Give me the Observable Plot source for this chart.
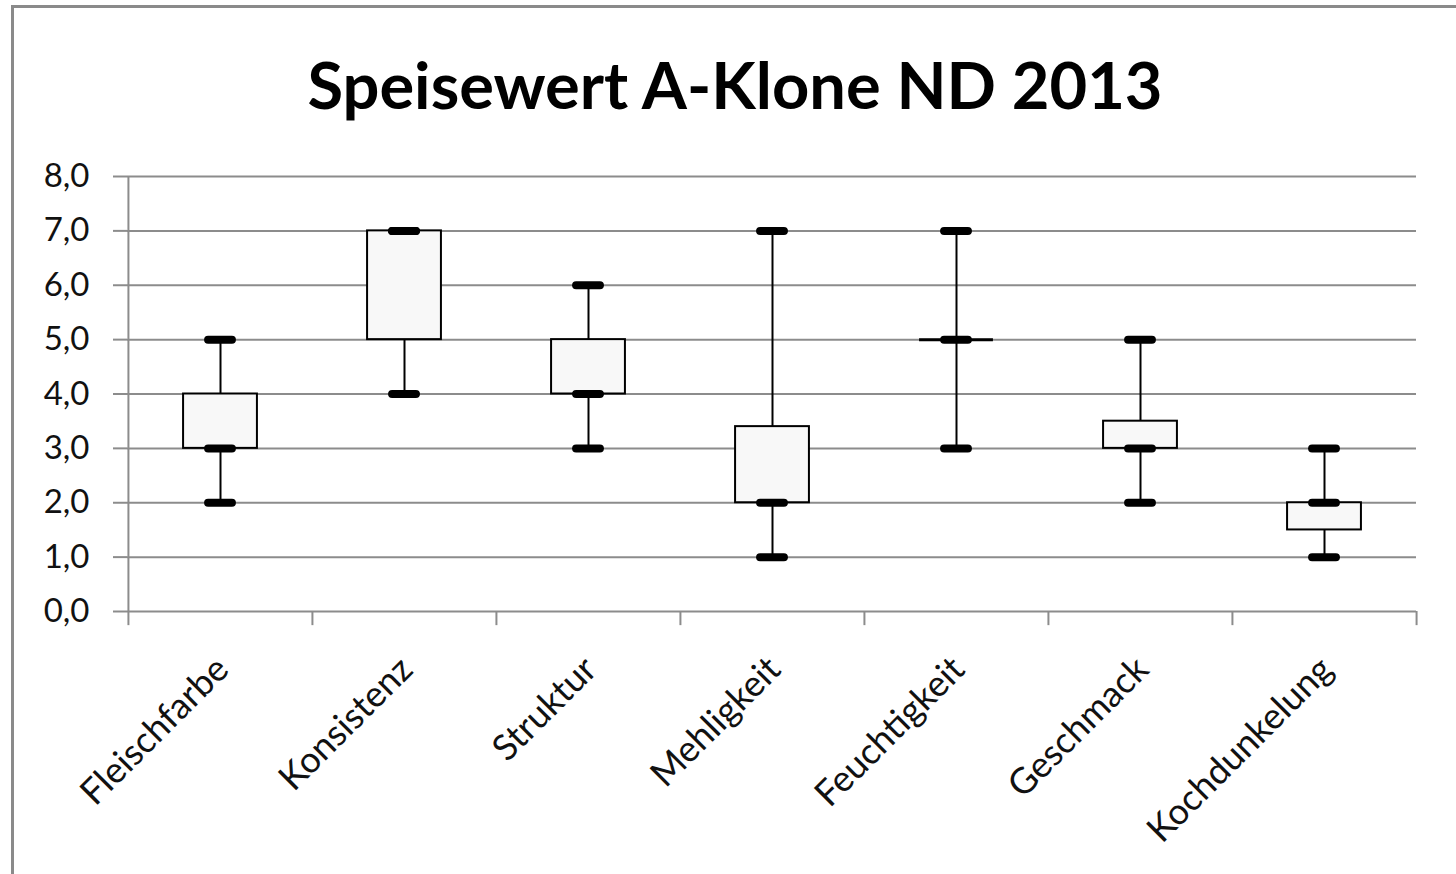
<!DOCTYPE html>
<html>
<head>
<meta charset="utf-8">
<script src="https://cdn.jsdelivr.net/npm/d3@7"></script>
<script src="https://cdn.jsdelivr.net/npm/@observablehq/plot@0.6"></script>
<style>
  html, body { margin: 0; padding: 0; background: #fff; }
  #wrap { position: relative; width: 1456px; height: 874px; overflow: hidden; background: #fff; font-family: Lato, "Open Sans", sans-serif; }
  #border { position: absolute; left: 11px; top: 5px; width: 1600px; height: 1000px; border-top: 3px solid #8a8a8a; border-left: 3px solid #8a8a8a; box-sizing: border-box; }
  #title { position: absolute; left: 0; top: 44px; width: 1470px; text-align: center; font-family: Lato, sans-serif; font-weight: 700; font-size: 65px; line-height: 80px; color: #000; }
  #chart { position: absolute; left: 0; top: 150px; }
</style>
</head>
<body>
<div id="wrap">
  <div id="border"></div>
  <div id="title">Speisewert A-Klone ND 2013</div>
  <div id="chart"></div>
</div>
<script>
const categories = ["Fleischfarbe", "Konsistenz", "Struktur", "Mehligkeit", "Feuchtigkeit", "Geschmack", "Kochdunkelung"];
const minValues    = [2, 4, 3, 1, 3, 2, 1];
const q1Values     = [3, 5, 4, 2, 5, 3, 1.5];
const medianValues = [3, 7, 4, 2, 5, 3, 2];
const q3Values     = [4, 7, 5, 3.4, 5, 3.5, 2];
const maxValues    = [5, 7, 6, 7, 7, 5, 3];
const yTicks = [0, 1, 2, 3, 4, 5, 6, 7, 8];

const rows = categories.map((c, i) => ({
  cat: c, min: minValues[i], q1: q1Values[i], med: medianValues[i], q3: q3Values[i], max: maxValues[i]
}));
const markers = rows.flatMap(r => [
  {cat: r.cat, v: r.min}, {cat: r.cat, v: r.med}, {cat: r.cat, v: r.max}
]);

const W = 1456, H = 724;
const mL = 127, mR = 40, mT = 26, mB = 263;
const bw = (W - mL - mR) / categories.length;
const boxW = 74;
const markLen = 24;
const grey = "#8c8c8c";

const chart = Plot.plot({
  width: W, height: H,
  marginLeft: mL, marginRight: mR, marginTop: mT, marginBottom: mB,
  style: {fontFamily: "Lato, 'Open Sans', sans-serif", color: "#111", background: "transparent", overflow: "visible"},
  x: {type: "band", domain: categories, padding: 0, label: null},
  y: {domain: [0, 8], label: null},
  marks: [
    Plot.gridY(yTicks, {stroke: grey, strokeOpacity: 1, strokeWidth: 2}),
    Plot.axisY(yTicks, {tickSize: 14, tickPadding: 24, stroke: grey, strokeWidth: 2, fontSize: 33,
      tickFormat: d => d.toFixed(1).replace(".", ","), fill: "#111"}),
    Plot.ruleX([categories[0]], {x: d => d, dx: -bw / 2, y1: 0, y2: 8, stroke: grey, strokeWidth: 2}),
    Plot.ruleX(categories, {x: d => d, dx: -bw / 2, y1: 0, y2: -0.26, stroke: grey, strokeWidth: 2}),
    Plot.ruleX([categories[categories.length - 1]], {x: d => d, dx: bw / 2, y1: 0, y2: -0.26, stroke: grey, strokeWidth: 2}),
    Plot.axisX({tickSize: 0, tickRotate: -45, fontSize: 36, tickPadding: 0, dx: 2, dy: 52, fill: "#111"}),
    Plot.ruleX(rows, {x: "cat", y1: "min", y2: "q1", stroke: "#000", strokeWidth: 2}),
    Plot.ruleX(rows, {x: "cat", y1: "q3", y2: "max", stroke: "#000", strokeWidth: 2}),
    Plot.barY(rows, {x: "cat", y1: "q1", y2: "q3", fill: "#f8f8f8", stroke: "#000", strokeWidth: 2,
      insetLeft: (bw - boxW) / 2, insetRight: (bw - boxW) / 2}),
    Plot.tickY(rows, {filter: d => d.q1 === d.q3, x: "cat", y: "q1", stroke: "#000", strokeWidth: 3,
      insetLeft: (bw - boxW) / 2, insetRight: (bw - boxW) / 2}),
    Plot.tickY(markers, {x: "cat", y: "v", stroke: "#000", strokeWidth: 8, strokeLinecap: "round",
      insetLeft: (bw - markLen) / 2, insetRight: (bw - markLen) / 2})
  ]
});
document.getElementById("chart").appendChild(chart);
</script>
</body>
</html>
